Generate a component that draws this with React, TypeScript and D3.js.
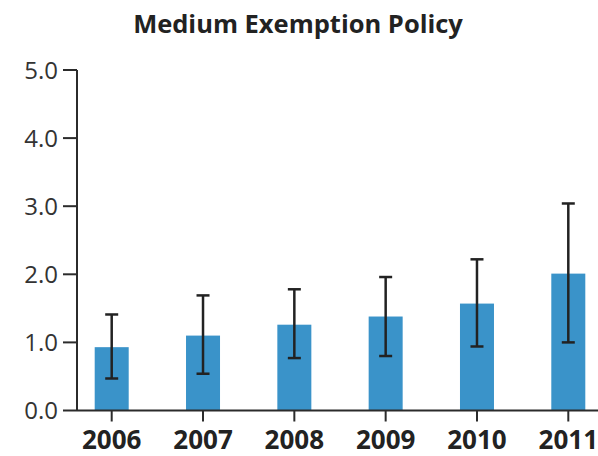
import React from "react";
import * as d3 from "d3";

const years = ["2006", "2007", "2008", "2009", "2010", "2011"];
const means = [0.93, 1.1, 1.26, 1.38, 1.57, 2.01];
const errHigh = [1.41, 1.69, 1.78, 1.96, 2.22, 3.04];
const errLow = [0.47, 0.54, 0.77, 0.8, 0.94, 1.0];
const yTicks = [0, 1, 2, 3, 4, 5];
const title = "Medium Exemption Policy";

const W = 598;
const H = 456;
const axisX = 77;
const y0 = 410.5;
const yTop = 70;

export default function App() {
  const x = d3.scalePoint<string>().domain(years).range([111.7, 568.3]);
  const y = d3.scaleLinear().domain([0, 5]).range([y0, yTop]);
  const barW = 34;
  const capW = 13;
  const axisColor = "#2b2b2b";
  const font = "'Open Sans', 'DejaVu Sans', sans-serif";
  return (
    <svg width={W} height={H} style={{ position: "absolute", left: 0, top: 0, background: "#fff" }}>
      <text x={298} y={33} textAnchor="middle" fontFamily={font} fontWeight="bold" fontSize={25.5} fill="#222">
        {title}
      </text>
      {years.map((yr, i) => {
        const cx = x(yr)!;
        return (
          <g key={yr}>
            <rect x={cx - barW / 2} y={y(means[i])} width={barW} height={y0 - y(means[i])} fill="#3a93c9" />
            <line x1={cx} x2={cx} y1={y(errHigh[i])} y2={y(errLow[i])} stroke="#222" strokeWidth={2.5} />
            <line x1={cx - capW / 2} x2={cx + capW / 2} y1={y(errHigh[i])} y2={y(errHigh[i])} stroke="#222" strokeWidth={2.5} />
            <line x1={cx - capW / 2} x2={cx + capW / 2} y1={y(errLow[i])} y2={y(errLow[i])} stroke="#222" strokeWidth={2.5} />
          </g>
        );
      })}
      <line x1={axisX} x2={axisX} y1={yTop} y2={y0} stroke={axisColor} strokeWidth={2} />
      <line x1={axisX} x2={W} y1={y0} y2={y0} stroke={axisColor} strokeWidth={2} />
      {yTicks.map((t) => (
        <g key={t}>
          <line x1={axisX - 14} x2={axisX} y1={y(t)} y2={y(t)} stroke={axisColor} strokeWidth={2} />
          <text x={axisX - 19} y={y(t)} dy="0.36em" textAnchor="end" fontFamily={font} fontSize={24} fill="#333">
            {t.toFixed(1)}
          </text>
        </g>
      ))}
      {years.map((yr) => (
        <g key={"t" + yr}>
          <line x1={x(yr)!} x2={x(yr)!} y1={y0} y2={y0 + 11} stroke={axisColor} strokeWidth={2} />
          <text x={x(yr)!} y={449} textAnchor="middle" fontFamily={font} fontWeight="bold" fontSize={26} fill="#222">
            {yr}
          </text>
        </g>
      ))}
    </svg>
  );
}
